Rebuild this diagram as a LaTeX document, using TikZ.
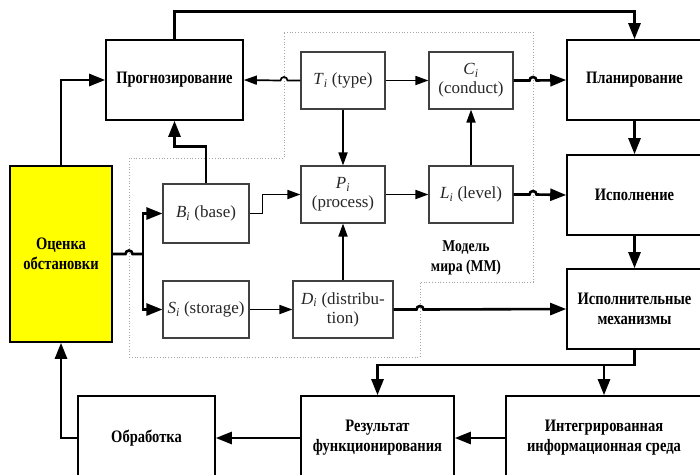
\documentclass[tikz,border=0pt]{standalone}
\usepackage{fontspec}
\setmainfont{Liberation Serif}
\newfontfamily\blockfont[FakeStretch=0.83]{Liberation Serif}
\usetikzlibrary{arrows.meta,calc}
\definecolor{alarm}{RGB}{255,255,0}
\tikzset{
  outerbox/.style={draw, line width=1.6pt, align=center, inner sep=0pt,
    font=\blockfont\bfseries\fontsize{17.5}{20}\selectfont},
  innerbox/.style={draw=black!75, line width=1.1pt, align=center, inner sep=0pt,
    text=black!85, font=\fontsize{17}{19}\selectfont},
  thickarr/.style={-{Triangle[length=16pt,width=12pt]}, line width=2.6pt},
  thinarr/.style={-{Triangle[length=13pt,width=9pt]}, line width=1.7pt},
  thickln/.style={line width=2.6pt},
  mmzone/.style={draw=gray!70, dotted, line width=0.8pt},
}
\newcommand{\vname}[2]{\textit{#1}\textsubscript{\textit{#2}}}

\begin{document}
\begin{tikzpicture}[x=1pt,y=-1pt]
    \clip (0,0) rectangle (700,474);
    % world model zone
    \coordinate (mm1) at (284,32);  \coordinate (mm2) at (533,32);
    \coordinate (mm3) at (533,282); \coordinate (mm4) at (420,282);
    \coordinate (mm5) at (420,357); \coordinate (mm6) at (129,357);
    \coordinate (mm7) at (129,158); \coordinate (mm8) at (284,158);
    \draw[mmzone] (mm1) -- (mm2) -- (mm3) -- (mm4) -- (mm5) -- (mm6) -- (mm7) -- (mm8) -- cycle;
    \node[font=\blockfont\bfseries\fontsize{16.5}{20}\selectfont, align=center] (mmlab) at (466,258) {Модель\\мира (ММ)};
    % outer blocks
    \node[outerbox, fill=alarm, minimum width=102pt, minimum height=176pt] (ocenka) at (61,254) {Оценка\\обстановки};
    \node[outerbox, minimum width=137pt, minimum height=80pt] (prog) at (174.5,80) {Прогнозирование};
    \node[outerbox, minimum width=135pt, minimum height=80pt] (plan) at (634.5,80) {Планирование};
    \node[outerbox, minimum width=135pt, minimum height=80pt] (ispoln) at (634.5,195) {Исполнение};
    \node[outerbox, minimum width=135pt, minimum height=80pt] (mech) at (634.5,309) {Исполнительные\\механизмы};
    \node[outerbox, minimum width=196pt, minimum height=84pt] (integr) at (604,438) {Интегрированная\\информационная среда};
    \node[outerbox, minimum width=153pt, minimum height=84pt] (rez) at (377.5,438) {Результат\\функционирования};
    \node[outerbox, minimum width=137pt, minimum height=84pt] (obr) at (146.5,438) {Обработка};
    % inner blocks of the model
    \node[innerbox, minimum width=84pt, minimum height=57pt] (Tb) at (343,80.5) {\vname{T}{i} (type)};
    \node[innerbox, minimum width=84pt, minimum height=57pt] (Cb) at (471,80.5) {\vname{C}{i}\\(conduct)};
    \node[innerbox, minimum width=84pt, minimum height=57pt] (Pb) at (343,194.5) {\vname{P}{i}\\(process)};
    \node[innerbox, minimum width=84pt, minimum height=57pt] (Lb) at (471,194.5) {\vname{L}{i} (level)};
    \node[innerbox, minimum width=86pt, minimum height=59pt] (Bb) at (206,213.5) {\vname{B}{i} (base)};
    \node[innerbox, minimum width=86pt, minimum height=57pt] (Sb) at (206,309.5) {\vname{S}{i} (storage)};
    \node[innerbox, minimum width=100pt, minimum height=57pt] (Db) at (343,309.5) {\vname{D}{i} (distribu-\\tion)};
    % assessment feeds forecasting and the model
    \draw[thickarr] (ocenka.north) |- (prog.west);
    \coordinate (split) at (143,254);
    \draw[thickln] (ocenka.east) -- ($(ocenka.east -| mm6)+(-3.5,0)$) arc[start angle=180,end angle=0,radius=3.5pt] -- (split);
    \draw[thickarr] (split) |- (Bb.west);
    \draw[thickarr] (split) |- (Sb.west);
    % forecasting to planning
    \draw[thickarr] (prog.north) -- ++(0,-28) -| (plan.north);
    % links inside the model
    \draw[thinarr] (Tb.west) -- ($(Tb.west -| mm1)+(3.5,0)$) arc[start angle=0,end angle=180,radius=3.5pt] -- (prog.east);
    \draw[thinarr] (Tb) -- (Cb);
    \draw[thinarr] (Tb) -- (Pb);
    \draw[thinarr] (Pb) -- (Lb);
    \draw[thinarr] (Lb) -- (Cb);
    \draw[thinarr] (Bb.east) -- ++(13,0) |- (Pb.west);
    \draw[thickarr] (Bb.north) -- ++(0,-37) -| (prog.south);
    \draw[thinarr] (Sb) -- (Db);
    \draw[thinarr] (Db) -- (Pb);
    % model outputs
    \draw[thickarr] (Cb.east) -- ($(Cb.east -| mm2)+(-3.5,0)$) arc[start angle=180,end angle=0,radius=3.5pt] -- (plan.west);
    \draw[thickarr] (Lb.east) -- ($(Lb.east -| mm2)+(-3.5,0)$) arc[start angle=180,end angle=0,radius=3.5pt] -- (ispoln.west);
    \draw[thickarr] (Db.east) -- ($(Db.east -| mm4)+(-3.5,0)$) arc[start angle=180,end angle=0,radius=3.5pt] -- (mech.west);
    % execution chain
    \draw[thickarr] (plan) -- (ispoln);
    \draw[thickarr] (ispoln) -- (mech);
    \draw[thickarr] (mech.south) -- ++(0,15) -| (rez.north);
    \draw[thickarr] (mech.south) -- ++(0,15) -| (integr.north);
    % feedback loop
    \draw[thickarr] (integr.west) -- (rez.east);
    \draw[thickarr] (rez.west) -- (obr.east);
    \draw[thickarr] (obr.west) -| (ocenka.south);
  \end{tikzpicture}
\end{document}
